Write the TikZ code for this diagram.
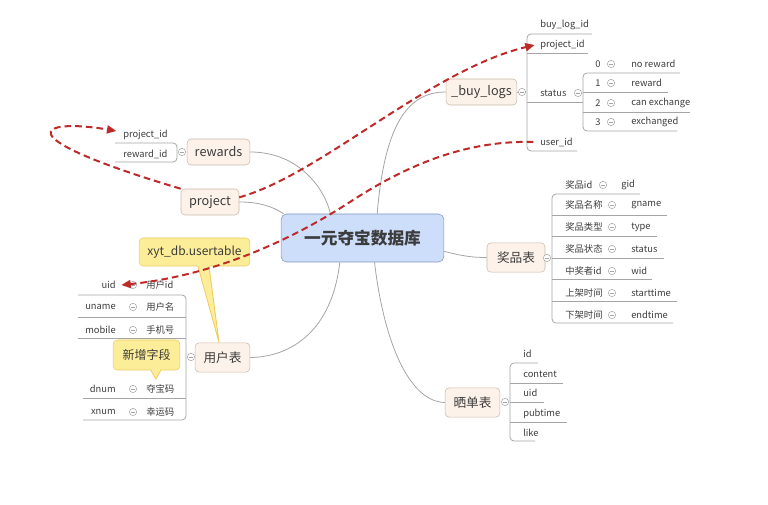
\documentclass[tikz,border=0pt]{standalone}
\usepackage{fontspec}
\setmainfont{Noto Sans CJK SC}
\usepackage{tikz}
\usetikzlibrary{arrows.meta}
\definecolor{topicfill}{RGB}{253,242,233}
\definecolor{topicline}{RGB}{200,184,170}
\definecolor{hubfill}{RGB}{205,222,250}
\definecolor{hubline}{RGB}{128,148,190}
\definecolor{notefill}{RGB}{252,237,152}
\definecolor{noteline}{RGB}{238,200,92}
\definecolor{linkred}{RGB}{190,42,40}
\definecolor{treegray}{RGB}{165,165,165}
\definecolor{inkgray}{RGB}{60,60,60}

\begin{document}
\begin{tikzpicture}[x=0.75pt, y=-0.75pt,
    every node/.style={text=inkgray},
    hubbox/.style={draw=hubline, fill=hubfill, rounded corners=4pt, minimum width=122pt, minimum height=36pt, font=\fontsize{12.5}{14}\selectfont\bfseries},
    topicbox/.style={draw=topicline, fill=topicfill, rounded corners=3pt, minimum height=19.5pt, inner xsep=2pt, font=\fontsize{9.5}{11}\selectfont},
    leafl/.style={anchor=west, inner sep=0pt, font=\fontsize{7}{8}\selectfont},
    leafr/.style={anchor=east, inner sep=0pt, font=\fontsize{7}{8}\selectfont},
    notebox/.style={draw=noteline, fill=notefill, rounded corners=3pt, font=\fontsize{9}{11}\selectfont},
    foldmark/.style={circle, draw=treegray, fill=white, inner sep=0pt, minimum size=5.5pt, path picture={\draw[treegray, line width=0.4pt] ([xshift=-1.6pt]path picture bounding box.center) -- ([xshift=1.6pt]path picture bounding box.center);}},
    branchline/.style={draw=treegray, line width=0.6pt},
    bracket/.style={draw=treegray, line width=0.6pt, rounded corners=3pt},
    linkline/.style={draw=linkred, line width=1.5pt, dash pattern=on 5pt off 3pt, -{Triangle[length=7pt, width=6pt]}}]

    \useasboundingbox (0,0) rectangle (768,505);

    % main topics
    \node[hubbox] (db) at (362.5,238) {一元夺宝数据库};
    \node[topicbox, minimum width=53pt] (buy) at (481.5,92) {\_buy\_logs};
    \node[topicbox, minimum width=47pt] (rew) at (218.5,152) {rewards};
    \node[topicbox, minimum width=43.5pt] (proj) at (210,202) {project};
    \node[topicbox, minimum width=43.5pt, minimum height=22pt] (prize) at (516,257.5) {奖品表};
    \node[topicbox, minimum width=41pt, minimum height=22pt] (user) at (222.5,357.5) {用户表};
    \node[topicbox, minimum width=41pt, minimum height=22pt] (show) at (472.5,402.5) {晒单表};

    \draw[branchline] ([xshift=11pt]db.north) .. controls (385,120) and (410,92) .. (buy.west);
    \draw[branchline] ([xshift=-24pt]db.north) .. controls (325,190) and (300,152) .. (rew.east);
    \draw[branchline] ([xshift=2pt]db.north west) .. controls (272,206) and (258,202) .. (proj.east);
    \draw[branchline] ([yshift=-10pt]db.east) .. controls (462,256) and (472,257.5) .. (prize.west);
    \draw[branchline] ([xshift=-17pt]db.south) .. controls (332,330) and (292,357) .. (user.east);
    \draw[branchline] ([xshift=9pt]db.south) .. controls (385,350) and (412,402) .. (show.west);

    % _buy_logs
    \node[foldmark] (buyf) at (522,92) {};
    \draw[branchline] (buy.east) -- (buyf.west);
    \draw[bracket] (592,34) -- (527,34) -- (527,151) -- (577,151);
    \draw[bracket] (527,53) -- (588,53);
    \draw[bracket] (527,102) -- (583,102);
    \node[leafl] (bbid) at (540,25) {buy\_log\_id};
    \node[leafl] (bpid) at (540,45) {project\_id};
    \node[leafl] (bst) at (540,93) {status};
    \node[leafl] (buid) at (540,142) {user\_id};
    \node[foldmark] (bstf) at (578,93) {};
    \draw[bracket] (680,73) -- (583,73) -- (583,131) -- (677,131);
    \draw[bracket] (583,92) -- (668,92);
    \draw[bracket] (583,112) -- (690,112);
    \foreach \n/\y/\t in {0/64/no reward, 1/83/reward, 2/103/can exchange, 3/122/exchanged} {
        \node[leafl] (st\n) at (595,\y) {\n};
        \node[foldmark] (stf\n) at (611,\y) {};
        \node[leafl] (stv\n) at (631,\y) {\t};
    }

    % rewards
    \node[foldmark] (rewf) at (182,152) {};
    \draw[bracket] (115,143) -- (177,143) -- (177,162) -- (115,162);
    \node[leafl] (rpid) at (123,135) {project\_id};
    \node[leafl] (rrid) at (123,154) {reward\_id};

    % 奖品表
    \node[foldmark] (prizef) at (547,258) {};
    \draw[bracket] (640,194) -- (552,194) -- (552,323) -- (673,323);
    \foreach \y/\e in {215/667, 236/657, 258/664, 279/652, 301/677}
        \draw[bracket] (552,\y) -- (\e,\y);
    \foreach \i/\y/\k/\c/\x/\v in {1/185/奖品id/603/621/gid, 2/205/奖品名称/612/631/gname, 3/227/奖品类型/612/631/type, 4/249/奖品状态/612/631/status, 5/271/中奖者id/612/631/wid, 6/293/上架时间/612/631/starttime, 7/315/下架时间/612/631/endtime} {
        \node[leafl] (pk\i) at (565,\y) {\k};
        \node[foldmark] (pf\i) at (\c,\y) {};
        \node[leafl] (pv\i) at (\x,\y) {\v};
    }

    % 用户表
    \node[foldmark] (userf) at (191,357) {};
    \draw[bracket] (78,295) -- (186,295) -- (186,420) -- (83,420);
    \draw[bracket] (78,317) -- (186,317);
    \draw[bracket] (78,338) -- (186,338);
    \draw[bracket] (83,398) -- (186,398);
    \foreach \n/\y/\v in {uid/285/用户id, uname/307/用户名, mobile/330/手机号, dnum/389/夺宝码, xnum/412/幸运码} {
        \node[leafr] (u\n) at (116,\y) {\n};
        \node[foldmark] (uf\n) at (133,\y) {};
        \node[leafl] (uv\n) at (146,\y) {\v};
    }

    % 晒单表
    \node[foldmark] (showf) at (505,402) {};
    \draw[bracket] (538,363) -- (510,363) -- (510,441) -- (535,441);
    \draw[bracket] (510,383) -- (563,383);
    \draw[bracket] (510,402) -- (544,402);
    \draw[bracket] (510,422) -- (567,422);
    \foreach \n/\y/\t in {a/354/id, b/374/content, c/393/uid, d/414/pubtime, e/433/like}
        \node[leafl] (s\n) at (523,\y) {\t};

    % callouts
    \node[notebox, minimum width=83pt, minimum height=21pt] (tbl) at (194.5,252) {xyt\_db.usertable};
    \node[notebox, minimum width=50pt, minimum height=22.5pt] (newf) at (146.5,355) {新增字段};
    \fill[notefill] ([xshift=2.6pt,yshift=1pt]tbl.south) -- ([xshift=-2.6pt]user.north) -- ([xshift=10.9pt,yshift=1pt]tbl.south) -- cycle;
    \draw[noteline, line width=0.6pt] ([xshift=2.6pt]tbl.south) -- ([xshift=-2.6pt]user.north) -- ([xshift=10.9pt]tbl.south);
    \fill[notefill] ([xshift=3.3pt,yshift=1pt]newf.south) -- ([xshift=7pt,yshift=-6.5pt]newf.south) -- ([xshift=10.7pt,yshift=1pt]newf.south) -- cycle;
    \draw[noteline, line width=0.6pt] ([xshift=3.3pt]newf.south) -- ([xshift=7pt,yshift=-6.5pt]newf.south) -- ([xshift=10.7pt]newf.south);

    % links
    \draw[linkline] ([yshift=3.5pt]proj.east) .. controls (320,175) and (430,70) .. ([xshift=-4pt]bpid.west);
    \draw[linkline] (proj.north west) .. controls (0,135) and (40,118) .. ([shift={(-5pt,3pt)}]rpid.west);
    \draw[linkline] ([xshift=-5pt]buid.west) .. controls (460,140) and (400,170) .. (353,200) .. controls (300,235) and (220,275) .. ([xshift=4pt]uuid.east);
\end{tikzpicture}
\end{document}
